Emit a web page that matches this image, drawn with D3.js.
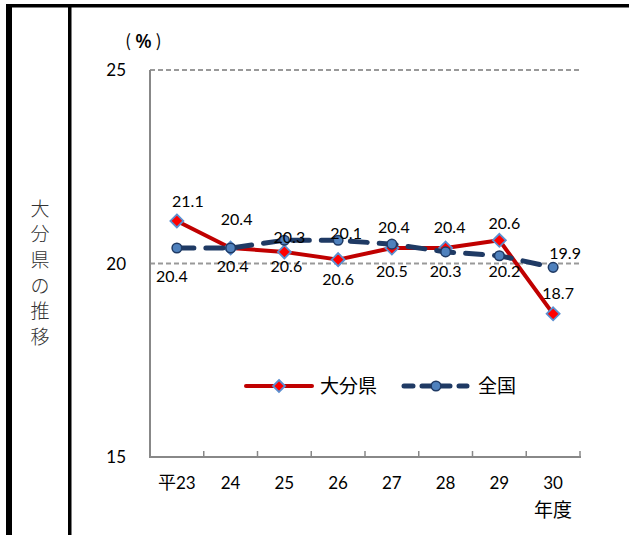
<!DOCTYPE html>
<html lang="ja"><head><meta charset="utf-8">
<script src="https://cdn.jsdelivr.net/npm/d3@7"></script>
<style>body{margin:0;background:#fff}svg{display:block}</style>
</head><body>
<svg id="c" width="629" height="535"></svg>
<script>
const categories = ["平23","24","25","26","27","28","29","30"];
const oita = [21.1, 20.4, 20.3, 20.1, 20.4, 20.4, 20.6, 18.7];
const national = [20.4, 20.4, 20.6, 20.6, 20.5, 20.3, 20.2, 19.9];
const yTicks = [15, 20, 25];
const seriesNames = ["大分県", "全国"];
const sideTitle = "大分県の推移";
const unitLabel = ["（", "%", "）"];
const xUnit = "年度";
// label offsets relative to their point (style)
const oitaLabelOff = [[11,-20],[6,-29],[5,-15],[8,-26],[2,-21],[4,-21],[5,-17],[5,-21]];
const natLabelOff = [[-5,28],[2,18],[2,26],[0,39],[0,27],[0,19],[5,15],[12,-14]];

const svg = d3.select("#c");
const num = "Lato, 'Noto Sans', sans-serif";
const jp = "'Noto Sans CJK JP', sans-serif";

// frame
svg.append("rect").attr("x",6).attr("y",4).attr("width",629).attr("height",3.5).attr("fill","#000");
svg.append("rect").attr("x",6).attr("y",4).attr("width",6).attr("height",535).attr("fill","#000");
svg.append("rect").attr("x",68).attr("y",4).attr("width",3.5).attr("height",535).attr("fill","#000");

// vertical title
sideTitle.split("").forEach((ch,i)=>{
  svg.append("text").attr("x",40).attr("y",209+i*25.6).attr("dy","0.36em")
    .attr("text-anchor","middle").attr("font-family",jp).attr("font-size",19)
    .attr("fill","#333").attr("font-weight",300).text(ch);
});

const x = d3.scaleBand().domain(categories).range([150,580]).padding(0);
const y = d3.scaleLinear().domain([15,25]).range([457,70]);
const cx = d => x(d) + x.bandwidth()/2;

// gridlines
svg.append("g").selectAll("line").data(yTicks.filter(t=>t>15)).join("line")
  .attr("x1",150).attr("x2",580).attr("y1",d=>y(d)).attr("y2",d=>y(d))
  .attr("stroke","#999").attr("stroke-width",2).attr("stroke-dasharray","5,3");

// y axis
svg.append("line").attr("x1",150).attr("x2",150).attr("y1",y(25)).attr("y2",y(15))
  .attr("stroke","#888").attr("stroke-width",2);
svg.append("g").selectAll("text").data(yTicks).join("text")
  .attr("x",126).attr("y",d=>y(d)).attr("dy","0.36em").attr("text-anchor","end")
  .attr("font-family",num).attr("font-size",17).attr("fill","#000").text(d=>d);
// unit label
const unitX = [128, 143.5, 158.5];
svg.append("g").selectAll("text").data(unitLabel).join("text")
  .attr("x",(d,i)=>unitX[i]).attr("y",41).attr("dy","0.36em").attr("text-anchor","middle")
  .attr("font-family",(d,i)=>i===1?"'Open Sans', sans-serif":jp).attr("font-size",(d,i)=>i===1?19:17)
  .attr("font-weight",(d,i)=>i===1?600:400).attr("fill","#000")
  .text(d=>d==="（"?"(":d==="）"?")":d);

// x axis
svg.append("line").attr("x1",149).attr("x2",581).attr("y1",y(15)).attr("y2",y(15))
  .attr("stroke","#888").attr("stroke-width",2);
const bounds = d3.range(categories.length+1).map(i=>150+i*x.step());
svg.append("g").selectAll("line").data(bounds).join("line")
  .attr("x1",d=>d).attr("x2",d=>d).attr("y1",y(15)).attr("y2",y(15)-6)
  .attr("stroke","#888").attr("stroke-width",1.5);
svg.append("g").selectAll("text").data(categories).join("text")
  .attr("x",d=>cx(d)).attr("y",483).attr("dy","0.36em").attr("text-anchor","middle")
  .attr("font-family",num).attr("font-size",17).attr("fill","#000")
  .each(function(d){
    const t=d3.select(this);
    if(d.startsWith("平")){
      t.append("tspan").attr("font-family",jp).attr("font-size",18).text("平");
      t.append("tspan").text(d.slice(1));
    } else t.text(d);
  });
svg.append("text").attr("x",cx(categories[categories.length-1])).attr("y",510).attr("dy","0.36em")
  .attr("text-anchor","middle").attr("font-family",jp).attr("font-size",19).attr("fill","#000").text(xUnit);

const line = d3.line().x((d,i)=>cx(categories[i])).y(d=>y(d));

// Oita series
svg.append("path").attr("d",line(oita)).attr("fill","none").attr("stroke","#C00000")
  .attr("stroke-width",4).attr("stroke-linejoin","round");
const diamond = (px,py,r)=>`M${px},${py-r}L${px+r},${py}L${px},${py+r}L${px-r},${py}Z`;
svg.append("g").selectAll("path").data(oita).join("path")
  .attr("d",(d,i)=>diamond(cx(categories[i]),y(d),6.5))
  .attr("fill","#FF0000").attr("stroke","#5B8FD0").attr("stroke-width",1.8);

// National series
svg.append("path").attr("d",line(national)).attr("fill","none").attr("stroke","#1F3A64")
  .attr("stroke-width",5).attr("stroke-linecap","round").attr("stroke-dasharray","17,12");
svg.append("g").selectAll("circle").data(national).join("circle")
  .attr("cx",(d,i)=>cx(categories[i])).attr("cy",d=>y(d)).attr("r",4.8)
  .attr("fill","#4F81BD").attr("stroke","#1F3A64").attr("stroke-width",1.5);

// labels
svg.append("g").selectAll("text").data(oita).join("text")
  .attr("x",(d,i)=>cx(categories[i])+oitaLabelOff[i][0]).attr("y",(d,i)=>y(d)+oitaLabelOff[i][1])
  .attr("dy","0.36em").attr("text-anchor","middle").attr("font-family",num).attr("font-size",16)
  .attr("fill","#000").text(d=>d.toFixed(1));
svg.append("g").selectAll("text").data(national).join("text")
  .attr("x",(d,i)=>cx(categories[i])+natLabelOff[i][0]).attr("y",(d,i)=>y(d)+natLabelOff[i][1])
  .attr("dy","0.36em").attr("text-anchor","middle").attr("font-family",num).attr("font-size",16)
  .attr("fill","#000").text(d=>d.toFixed(1));

// legend
const lg = svg.append("g");
lg.append("line").attr("x1",246).attr("x2",312).attr("y1",386).attr("y2",386)
  .attr("stroke","#C00000").attr("stroke-width",4).attr("stroke-linecap","round");
lg.append("path").attr("d",diamond(279,386,6)).attr("fill","#FF0000").attr("stroke","#5B8FD0").attr("stroke-width",1.8);
lg.append("text").attr("x",320).attr("y",386).attr("dy","0.36em").attr("font-family",jp)
  .attr("font-size",19).attr("fill","#000").text(seriesNames[0]);
lg.append("line").attr("x1",404).attr("x2",467).attr("y1",386).attr("y2",386)
  .attr("stroke","#1F3A64").attr("stroke-width",5).attr("stroke-linecap","round").attr("stroke-dasharray","9,9,28,9");
lg.append("circle").attr("cx",436).attr("cy",386).attr("r",4.8).attr("fill","#4F81BD").attr("stroke","#1F3A64").attr("stroke-width",1.5);
lg.append("text").attr("x",478).attr("y",386).attr("dy","0.36em").attr("font-family",jp)
  .attr("font-size",19).attr("fill","#000").text(seriesNames[1]);
</script>
</body></html>
